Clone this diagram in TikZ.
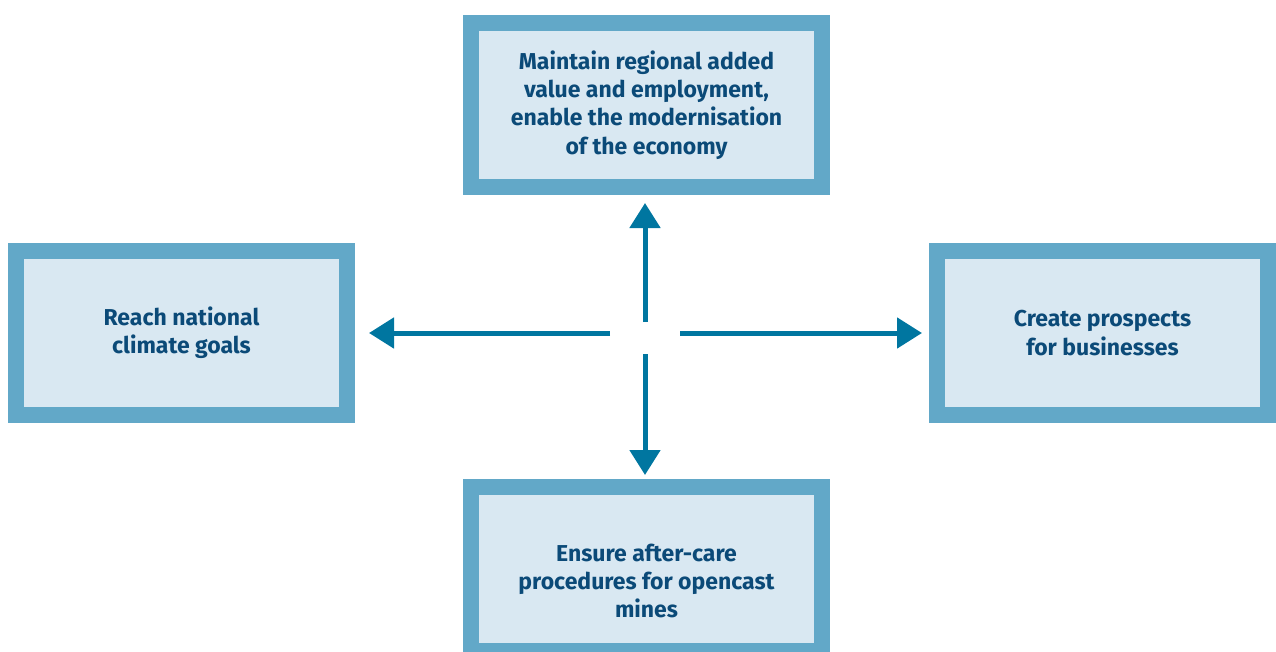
\documentclass[tikz,border=0pt]{standalone}
\usepackage{fontspec}
\setmainfont{Fira Sans}
\usetikzlibrary{arrows.meta}
\definecolor{boxborder}{HTML}{62A8C8}
\definecolor{boxfill}{HTML}{D9E8F2}
\definecolor{boxtext}{HTML}{0B4A78}
\definecolor{arrowcol}{HTML}{0076A0}
\tikzset{
  goalbox/.style={draw=boxborder, fill=boxfill, line width=16pt, inner sep=0pt,
    minimum height=164pt, align=center, text=boxtext,
    font=\fontsize{23}{28.3}\selectfont\bfseries},
  goaltext/.style={align=center, text=boxtext, inner sep=0pt,
    font=\fontsize{23}{28.3}\selectfont\bfseries},
  goalarrow/.style={draw=arrowcol, line width=5pt, -{Triangle[length=25pt,width=30pt]}}
}
\begin{document}
\begin{tikzpicture}[x=1pt,y=-1pt]
\useasboundingbox (0,0) rectangle (1276,651);
\node[goalbox, minimum width=351pt] (top) at (646.5,105) {Maintain regional added\\value and employment,\\enable the modernisation\\of the economy};
\node[goalbox, minimum width=331pt] (left) at (181.5,333) {Reach national\\climate goals};
\node[goalbox, minimum width=331pt] (right) at (1102.5,333) {Create prospects\\for businesses};
\node[goalbox, minimum width=351pt] (bottom) at (646.5,569) {};
\node[goaltext] (btext) at (646.5,581) {Ensure after-care\\procedures for opencast\\mines};
\coordinate (c) at (645,333);
\coordinate (cu) at (645,322);
\coordinate (cd) at (645,354);
\coordinate (cl) at (610,333);
\coordinate (cr) at (680,333);
\draw[goalarrow, shorten >=8pt] (cu) -- (cu |- top.south);
\draw[goalarrow, shorten >=4pt] (cd) -- (cd |- bottom.north);
\draw[goalarrow, shorten >=14pt] (cl) -- (left.east |- cl);
\draw[goalarrow, shorten >=7pt] (cr) -- (right.west |- cr);
\end{tikzpicture}
\end{document}
